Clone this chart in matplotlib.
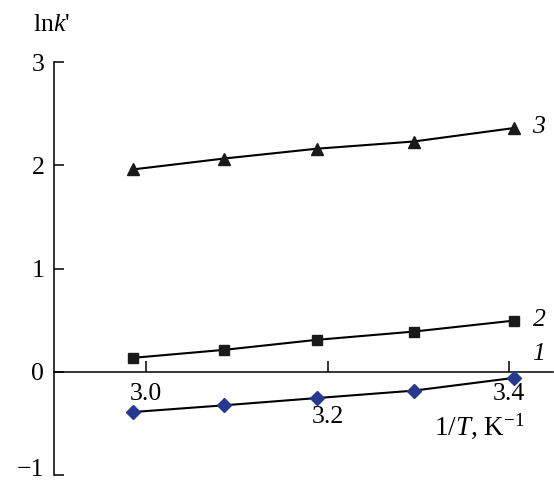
import matplotlib
matplotlib.use("Agg")
import matplotlib.pyplot as plt
from matplotlib.transforms import ScaledTranslation

plt.rcParams['font.family'] = ['Liberation Serif', 'DejaVu Serif']
plt.rcParams['mathtext.fontset'] = 'custom'
plt.rcParams['mathtext.rm'] = 'Liberation Serif'
plt.rcParams['mathtext.it'] = 'Liberation Serif:italic'

# Data
inv_T = [2.986, 3.086, 3.188, 3.295, 3.405]
series1 = [-0.39, -0.325, -0.255, -0.183, -0.06]
series2 = [0.135, 0.212, 0.309, 0.389, 0.495]
series3 = [1.96, 2.065, 2.16, 2.23, 2.36]
xticks = [3.0, 3.2, 3.4]
xtick_labels = ["3.0", "3.2", "3.4"]
yticks = [-1, 0, 1, 2, 3]
ytick_labels = ["\u22121", "0", "1", "2", "3"]
curve_labels = ["1", "2", "3"]

W, H = 554, 482
fig = plt.figure(figsize=(W / 100, H / 100), dpi=100)
ax = fig.add_axes([54 / W, (H - 475) / H, (553 - 54) / W, (475 - 62) / H])

fs = 18.5
ax.plot(inv_T, series1, color='black', lw=1.5, marker='D', ms=7,
        mfc='#26388f', mec='#26388f', zorder=3)
ax.plot(inv_T, series2, color='black', lw=1.5, marker='s', ms=7.7,
        mfc='#1a1a1a', mec='#1a1a1a', zorder=3)
ax.plot(inv_T, series3, color='black', lw=1.5, marker='^', ms=8.5,
        mfc='#1a1a1a', mec='#1a1a1a', zorder=3)

ax.set_xlim(2.8986, 3.4485)
ax.set_ylim(-1, 3)

for s in ['top', 'right']:
    ax.spines[s].set_visible(False)
ax.spines['bottom'].set_position(('data', 0))
ax.spines['bottom'].set_linewidth(1.1)
ax.spines['left'].set_linewidth(1.1)

ax.set_xticks(xticks)
ax.set_xticklabels([])
ax.tick_params(axis='x', direction='in', length=8, width=1.1)
ax.set_yticks(yticks)
ax.set_yticklabels(ytick_labels, fontsize=fs)
ax.tick_params(axis='y', direction='in', length=7, width=1.1, pad=7)
# raise the lowest label slightly so it stays inside the figure
lab0 = ax.get_yticklabels()[0]
lab0.set_transform(lab0.get_transform() + ScaledTranslation(0, 7 / 100, fig.dpi_scale_trans))

# x tick labels, staggered
label_y = [-0.215, -0.435, -0.215]
for x, lab, yy in zip(xticks, xtick_labels, label_y):
    ax.text(x, yy, lab, fontsize=fs, ha='center', va='center')

ax.text(3.367, -0.53, r"1/$T$, K$^{-1}$", fontsize=19.5, ha='center', va='center')
fig.text(33 / W, 1 - 25 / H, r"ln$k$'", fontsize=fs, ha='left', va='center')

# curve labels
label_pos = [(3.433, 0.175), (3.433, 0.5), (3.433, 2.37)]
for (x, y), lab in zip(label_pos, curve_labels):
    ax.text(x, y, lab, fontsize=fs, style='italic', ha='center', va='center')

fig.savefig("out.png", dpi=100)
